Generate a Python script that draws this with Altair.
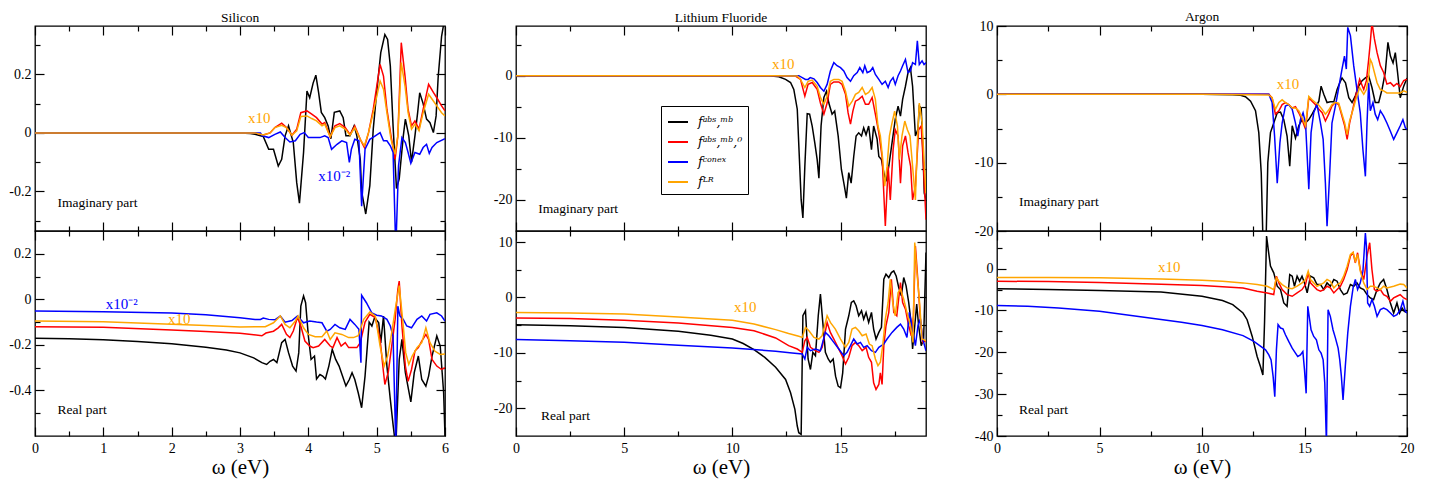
import altair as alt
import pandas as pd

FONT = "Liberation Serif"
SERIES = ["fᵃᵇˢ,ᵐᵇ", "fᵃᵇˢ,ᵐᵇ,⁰", "fᶜᵒⁿᵉˣ", "fᴸᴿ"]
COLORS = ["#000000", "#ff0000", "#0000ff", "#ffa500"]

# ---------------- Silicon, imaginary part ----------------
SI_IM_K = [(0,0),(1,0),(2,0),(3,0),(3.15,-0.002),(3.22,-0.005),(3.34,-0.012),(3.42,-0.056),(3.49,-0.056),(3.56,-0.113),(3.61,-0.09),(3.66,-0.01),(3.71,0.024),(3.78,-0.033),(3.83,-0.17),(3.87,-0.24),(3.93,-0.067),(3.98,0.143),(4.02,0.12),(4.07,0.17),(4.11,0.197),(4.15,0.138),(4.19,0.07),(4.24,0.052),(4.29,0.024),(4.33,-0.02),(4.38,0.07),(4.46,0.075),(4.51,0.052),(4.55,-0.01),(4.61,-0.01),(4.67,0.024),(4.71,-0.01),(4.76,-0.09),(4.78,-0.2),(4.84,-0.277),(4.90,-0.18),(4.95,0.013),(5.0,0.138),(5.06,0.274),(5.12,0.336),(5.16,0.319),(5.2,0.228),(5.24,0.024),(5.29,-0.19),(5.33,-0.157),(5.39,-0.01),(5.42,0.047),(5.47,-0.01),(5.51,-0.1),(5.56,-0.01),(5.6,0.07),(5.63,0.137),(5.68,0.1),(5.73,0.047),(5.78,0.035),(5.83,0.001),(5.87,0.058),(5.9,0.19),(5.95,0.33),(5.98,0.37),(6.0,0.42)]
SI_IM_R = [(0,0),(1,0),(2,0),(3,0),(3.22,0),(3.34,-0.007),(3.44,0),(3.51,0.018),(3.61,0.033),(3.68,0.018),(3.76,-0.008),(3.83,0.013),(3.89,0.069),(3.98,0.075),(4.05,0.064),(4.12,0.052),(4.2,0.03),(4.24,0.035),(4.32,-0.013),(4.39,0.024),(4.46,0.032),(4.54,0.018),(4.61,-0.005),(4.68,0.024),(4.76,-0.022),(4.82,-0.05),(4.88,0),(4.95,0.08),(5.05,0.234),(5.1,0.194),(5.15,0.08),(5.21,-0.01),(5.27,-0.09),(5.31,-0.01),(5.36,0.308),(5.415,0.194),(5.46,0.08),(5.51,0.024),(5.56,0.041),(5.62,0.013),(5.68,0.08),(5.76,0.166),(5.83,0.138),(5.88,0.12),(5.95,0.092),(6.0,0.075)]
SI_IM_B = [(0,0),(1,0),(2,0),(3,0),(3.3,0),(3.32,-0.009),(3.42,-0.016),(3.51,-0.005),(3.59,0.003),(3.66,-0.016),(3.73,-0.031),(3.81,-0.027),(3.88,-0.005),(3.94,0.001),(4.0,-0.016),(4.07,-0.016),(4.17,-0.016),(4.24,-0.01),(4.29,-0.016),(4.34,-0.056),(4.42,-0.039),(4.49,-0.027),(4.56,-0.033),(4.6,-0.101),(4.63,-0.056),(4.68,-0.022),(4.74,-0.027),(4.78,-0.25),(4.83,-0.056),(4.9,-0.022),(4.98,-0.01),(5.05,0.001),(5.1,-0.027),(5.15,-0.027),(5.2,-0.044),(5.24,-0.067),(5.28,-0.4),(5.32,-0.112),(5.37,-0.016),(5.42,-0.033),(5.46,-0.067),(5.5,-0.104),(5.56,-0.067),(5.63,-0.073),(5.68,-0.05),(5.73,-0.039),(5.77,-0.07),(5.81,-0.05),(5.88,-0.033),(6.0,-0.02)]
SI_IM_O = [(0,0),(1,0),(2,0),(3,0),(3.22,0),(3.34,-0.007),(3.44,0),(3.51,0.018),(3.61,0.026),(3.68,0.018),(3.76,-0.008),(3.83,0.007),(3.89,0.056),(3.98,0.058),(4.05,0.049),(4.12,0.041),(4.2,0.024),(4.24,0.03),(4.32,-0.013),(4.39,0.018),(4.46,0.024),(4.54,0.013),(4.61,-0.008),(4.68,0.018),(4.76,-0.022),(4.82,-0.044),(4.88,0),(4.95,0.069),(5.05,0.177),(5.1,0.149),(5.15,0.069),(5.21,-0.022),(5.27,-0.073),(5.31,-0.01),(5.36,0.24),(5.415,0.16),(5.46,0.069),(5.51,0.013),(5.56,0.03),(5.62,0.007),(5.68,0.069),(5.76,0.132),(5.83,0.109),(5.88,0.092),(5.95,0.069),(6.0,0.058)]

# ---------------- Silicon, real part ----------------
SI_RE_K = [(0,-0.171),(0.5,-0.173),(1,-0.177),(1.5,-0.185),(2,-0.195),(2.5,-0.21),(2.8,-0.222),(3.0,-0.235),(3.2,-0.257),(3.32,-0.278),(3.39,-0.286),(3.44,-0.272),(3.49,-0.264),(3.54,-0.278),(3.61,-0.19),(3.66,-0.176),(3.71,-0.234),(3.77,-0.293),(3.82,-0.315),(3.86,-0.234),(3.89,-0.03),(3.93,0.015),(3.96,-0.015),(4.0,-0.16),(4.04,-0.264),(4.09,-0.249),(4.12,-0.35),(4.17,-0.33),(4.21,-0.337),(4.25,-0.35),(4.30,-0.293),(4.35,-0.22),(4.40,-0.264),(4.45,-0.293),(4.5,-0.337),(4.55,-0.38),(4.6,-0.352),(4.64,-0.322),(4.68,-0.352),(4.73,-0.41),(4.78,-0.476),(4.83,-0.337),(4.89,-0.1),(4.93,-0.117),(4.97,-0.08),(5.03,-0.103),(5.06,-0.191),(5.1,-0.073),(5.15,-0.293),(5.2,-0.44),(5.24,-0.55),(5.28,-0.65),(5.33,-0.264),(5.37,-0.176),(5.42,-0.322),(5.5,-0.45),(5.55,-0.322),(5.61,-0.249),(5.66,-0.352),(5.72,-0.381),(5.76,-0.337),(5.81,-0.249),(5.88,-0.161),(5.93,-0.205),(5.98,-0.41),(6.0,-0.6)]
SI_RE_R = [(0,-0.12),(1,-0.123),(2,-0.135),(2.5,-0.141),(3,-0.149),(3.2,-0.155),(3.32,-0.16),(3.38,-0.148),(3.49,-0.14),(3.56,-0.125),(3.61,-0.11),(3.68,-0.154),(3.73,-0.168),(3.78,-0.139),(3.84,-0.08),(3.89,-0.117),(3.95,-0.183),(4.02,-0.205),(4.07,-0.212),(4.15,-0.205),(4.24,-0.176),(4.32,-0.205),(4.36,-0.212),(4.42,-0.168),(4.48,-0.205),(4.54,-0.19),(4.59,-0.212),(4.66,-0.212),(4.71,-0.212),(4.76,-0.19),(4.83,-0.1),(4.9,-0.066),(4.98,-0.08),(5.05,-0.176),(5.1,-0.32),(5.12,-0.374),(5.17,-0.32),(5.22,-0.205),(5.27,-0.088),(5.31,0.044),(5.33,0.08),(5.37,-0.117),(5.42,-0.293),(5.46,-0.36),(5.51,-0.308),(5.56,-0.227),(5.61,-0.212),(5.66,-0.183),(5.72,-0.154),(5.76,-0.176),(5.81,-0.264),(5.88,-0.293),(5.95,-0.308),(6.0,-0.3)]
SI_RE_B = [(0,-0.051),(1,-0.054),(2,-0.06),(2.5,-0.068),(3,-0.081),(3.22,-0.088),(3.3,-0.088),(3.34,-0.082),(3.42,-0.088),(3.51,-0.09),(3.59,-0.073),(3.66,-0.1),(3.76,-0.093),(3.84,-0.073),(3.93,-0.103),(4.02,-0.095),(4.12,-0.1),(4.2,-0.103),(4.27,-0.14),(4.32,-0.132),(4.39,-0.11),(4.46,-0.125),(4.54,-0.132),(4.61,-0.088),(4.68,-0.11),(4.74,-0.132),(4.77,-0.278),(4.78,0.018),(4.85,-0.015),(4.93,-0.06),(5.0,-0.07),(5.07,-0.073),(5.15,-0.088),(5.2,-0.117),(5.24,-0.161),(5.28,-0.65),(5.31,-0.03),(5.34,-0.073),(5.39,-0.088),(5.44,-0.117),(5.51,-0.125),(5.59,-0.088),(5.66,-0.073),(5.73,-0.095),(5.78,-0.066),(5.88,-0.059),(5.95,-0.073),(6.0,-0.095)]
SI_RE_O = [(0,-0.095),(1,-0.098),(2,-0.109),(2.5,-0.115),(3,-0.122),(3.22,-0.12),(3.37,-0.12),(3.49,-0.103),(3.59,-0.073),(3.66,-0.11),(3.73,-0.125),(3.81,-0.095),(3.85,-0.073),(3.93,-0.125),(4.0,-0.154),(4.1,-0.164),(4.2,-0.164),(4.27,-0.139),(4.32,-0.176),(4.39,-0.147),(4.49,-0.154),(4.59,-0.168),(4.66,-0.168),(4.73,-0.16),(4.81,-0.088),(4.9,-0.056),(4.98,-0.073),(5.05,-0.205),(5.11,-0.293),(5.16,-0.249),(5.22,-0.147),(5.28,-0.029),(5.33,0.06),(5.38,-0.088),(5.425,-0.234),(5.47,-0.286),(5.52,-0.249),(5.59,-0.212),(5.66,-0.19),(5.72,-0.125),(5.78,-0.19),(5.85,-0.227),(5.93,-0.242),(6.0,-0.24)]

# ---------------- Lithium Fluoride, imaginary part ----------------
LIF_IM_K = [(0,0),(5,0),(10,0),(11,0),(11.7,0),(12.15,-0.16),(12.46,-0.6),(12.69,-1.1),(12.84,-2.2),(13.0,-5.4),(13.1,-13.5),(13.18,-20),(13.26,-22.9),(13.35,-14.6),(13.46,-6.1),(13.57,-6.2),(13.69,-8.1),(13.81,-10.8),(13.92,-13.5),(14.0,-16.5),(14.1,-8.1),(14.23,-3.5),(14.35,-2.5),(14.46,-4.4),(14.61,-6.2),(14.73,-5.7),(14.89,-9.7),(15.04,-15.1),(15.18,-17.8),(15.27,-19.7),(15.38,-15.6),(15.49,-17.3),(15.61,-13),(15.72,-9.7),(15.84,-9.2),(15.97,-9.7),(16.07,-8.4),(16.18,-9.5),(16.3,-8.1),(16.43,-11.9),(16.53,-8.1),(16.69,-10.2),(16.77,-13),(16.89,-13.5),(17.0,-15.6),(17.1,-17),(17.23,-14.6),(17.38,-10.8),(17.53,-7),(17.66,-4.9),(17.77,-6.5),(17.87,-3.8),(18.0,-1.7),(18.12,0.5),(18.23,1.3),(18.33,-1.7),(18.46,-9.7),(18.58,-8.6),(18.64,-4.9),(18.73,-5.2),(18.81,-12.4),(18.87,-18.9),(18.95,-20)]
LIF_IM_R = [(0,0),(5,0),(10,0),(12,0),(12.92,-0.05),(13.15,-0.6),(13.35,-3.3),(13.5,-1.4),(13.69,-1.1),(13.92,-2.2),(14.07,-4.4),(14.23,-6.2),(14.38,-4.4),(14.53,-1.4),(14.69,-1.0),(14.92,-1.0),(15.07,-1.4),(15.23,-3),(15.35,-6),(15.46,-7.8),(15.57,-5.7),(15.69,-4.1),(15.84,-3.8),(16.0,-3.3),(16.15,-4.6),(16.3,-4.6),(16.46,-3.5),(16.61,-6.2),(16.77,-9.2),(16.92,-13),(17.07,-24.2),(17.2,-14.6),(17.3,-20),(17.43,-11.9),(17.53,-8.7),(17.66,-9.7),(17.77,-17.3),(17.87,-11.3),(18.0,-9.7),(18.12,-12.4),(18.24,-14.6),(18.33,-20),(18.46,-17.8),(18.61,-8.7),(18.73,-8.1),(18.84,-15.1),(18.95,-23.2)]
LIF_IM_B = [(0,0),(5,0),(10,0),(12,0),(13.07,0),(13.23,-0.3),(13.38,-0.6),(13.5,-0.6),(13.6,-0.3),(13.77,-0.5),(13.92,-1.1),(14.07,-1.9),(14.23,-2.5),(14.38,-1.4),(14.53,0.75),(14.69,2.1),(14.84,1.6),(15.0,1.3),(15.15,0.75),(15.3,-0.3),(15.46,-0.9),(15.61,0),(15.77,0.5),(15.89,1.3),(16.03,0.5),(16.12,1.6),(16.23,0.5),(16.38,0.75),(16.49,1.3),(16.61,0.2),(16.77,-0.6),(16.92,-1.4),(17.07,-0.9),(17.2,-1.9),(17.3,-0.9),(17.43,-0.3),(17.53,-1.4),(17.66,0),(17.77,0.75),(17.87,1.6),(18.0,2.6),(18.12,0.5),(18.23,0.75),(18.33,2.1),(18.46,1.8),(18.55,5.6),(18.64,1.8),(18.77,2.4),(18.86,1.8),(18.95,2.1)]
LIF_IM_O = [(0,0),(5,0),(10,0),(12,0),(13.0,-0.05),(13.15,-0.6),(13.35,-1.9),(13.5,-0.9),(13.69,-0.7),(13.92,-1.7),(14.07,-3.5),(14.23,-4.6),(14.38,-3.3),(14.53,-0.9),(14.69,-0.6),(14.92,-0.6),(15.07,-0.9),(15.23,-2.5),(15.38,-4.9),(15.54,-4.1),(15.69,-3),(15.84,-2.7),(16.0,-1.9),(16.15,-3),(16.3,-2.7),(16.46,-1.9),(16.61,-3.8),(16.73,-8.1),(16.84,-9.7),(16.95,-13.5),(17.04,-17.8),(17.15,-14.6),(17.26,-9.7),(17.38,-7.6),(17.5,-5.7),(17.63,-8.1),(17.72,-13.5),(17.84,-9.7),(17.97,-7.3),(18.09,-8.7),(18.21,-9.7),(18.33,-14.6),(18.46,-20),(18.55,-10.8),(18.64,-4.4),(18.77,-7.6),(18.86,-13.5),(18.95,-18.9)]

# ---------------- Lithium Fluoride, real part ----------------
LIF_RE_K = [(0,-4.9),(2.5,-5.1),(5,-5.4),(7.5,-6.1),(9,-6.8),(10,-7.5),(10.5,-8.3),(11,-9.4),(11.5,-10.8),(12,-12.6),(12.46,-14.8),(12.69,-17.2),(12.89,-20.2),(13.0,-23.2),(13.07,-24.4),(13.18,-24.7),(13.26,-3.3),(13.38,-2.4),(13.5,-11.1),(13.61,-13),(13.72,-9.9),(13.84,-10.5),(13.97,-3.3),(14.07,0.6),(14.18,-4.5),(14.3,-9.9),(14.43,-11.1),(14.53,-11.7),(14.66,-11.1),(14.77,-14.2),(14.89,-16),(15.0,-16.3),(15.1,-13.6),(15.23,-5.7),(15.38,-3.3),(15.5,-0.9),(15.61,-0.6),(15.72,-1.5),(15.84,-3.3),(15.97,-2.4),(16.07,-3.9),(16.18,-2.7),(16.3,-4.5),(16.43,-2.7),(16.53,-5.7),(16.64,-7.5),(16.77,-6.3),(16.89,-5.4),(17.0,3.3),(17.1,4.2),(17.23,3.6),(17.35,4.5),(17.46,4.8),(17.57,3.9),(17.69,1.8),(17.81,0.3),(17.92,3.6),(18.03,2.1),(18.15,-0.9),(18.26,-4.5),(18.33,-9.3),(18.43,-5.1),(18.52,-1.2),(18.61,-5.1),(18.73,-8.7),(18.84,-7.5),(18.95,8.1)]
LIF_RE_R = [(0,-3.7),(2.5,-3.8),(5,-4.1),(7.5,-4.6),(10,-5.4),(11,-6.0),(12,-7.3),(12.6,-8.7),(13.0,-9.3),(13.23,-9.9),(13.35,-7.8),(13.46,-7.2),(13.61,-9),(13.84,-9.6),(14.0,-9.9),(14.15,-9),(14.38,-4.5),(14.53,-6.3),(14.69,-7.5),(14.84,-8.7),(15.07,-10.5),(15.23,-12),(15.38,-10.8),(15.53,-8.7),(15.69,-8.1),(15.84,-8.7),(16.0,-9.6),(16.18,-9),(16.3,-10.8),(16.43,-11.7),(16.53,-15.4),(16.64,-16.6),(16.77,-15.7),(16.84,-13.6),(16.92,-15.7),(17.0,-8.7),(17.1,-5.1),(17.23,-2.7),(17.35,3.3),(17.46,-2.7),(17.6,-3.3),(17.77,2.7),(17.87,-0.9),(18.0,-2.1),(18.15,-5.1),(18.27,-6.9),(18.37,-3.3),(18.46,9.3),(18.57,3.3),(18.69,-3.9),(18.8,-8.1),(18.95,-7.8)]
LIF_RE_B = [(0,-7.6),(2.5,-7.8),(5,-8.1),(7.5,-8.6),(10,-9.1),(12,-9.7),(12.76,-10),(13.23,-10.2),(13.35,-11.1),(13.46,-9),(13.61,-9.6),(13.84,-9.3),(14.07,-9.6),(14.3,-6.3),(14.46,-6.9),(14.69,-8.1),(14.92,-9.3),(15.15,-10.5),(15.3,-9.9),(15.46,-8.7),(15.61,-7.5),(15.77,-8.4),(15.92,-8.1),(16.07,-9),(16.23,-8.7),(16.43,-9.6),(16.61,-9.9),(16.77,-9),(17.0,-8.4),(17.15,-7.5),(17.38,-6.3),(17.6,-5.4),(17.77,-4.8),(17.92,-5.7),(18.07,-7.2),(18.18,-2.7),(18.3,-5.1),(18.46,-8.7),(18.58,-5.1),(18.69,-3.9),(18.8,-7.5),(18.95,-9.6)]
LIF_RE_O = [(0,-2.7),(2.5,-2.8),(5,-3.0),(7.5,-3.5),(10,-4.1),(11,-4.8),(12,-5.8),(12.6,-6.5),(13.07,-7.0),(13.23,-7.2),(13.38,-5.4),(13.54,-6),(13.77,-7.2),(14.0,-7.5),(14.15,-6.9),(14.38,-3.3),(14.53,-4.5),(14.76,-5.7),(15.0,-7.5),(15.23,-9),(15.38,-8.1),(15.53,-5.7),(15.69,-5.4),(15.84,-6),(16.0,-6.9),(16.18,-6.6),(16.33,-8.4),(16.46,-8.7),(16.61,-11.1),(16.73,-12.3),(16.84,-11.7),(16.95,-8.7),(17.07,-3.9),(17.2,-0.9),(17.3,3.3),(17.41,-0.9),(17.53,-3.3),(17.66,0.9),(17.77,1.5),(17.92,-0.3),(18.07,-2.7),(18.23,-5.1),(18.35,-8.1),(18.43,9.9),(18.53,4.5),(18.64,-0.3),(18.77,-7.5),(18.95,-7.8)]

# ---------------- Argon, imaginary part ----------------
AR_IM_K = [(0,0),(5,0),(10,0),(11.5,-0.05),(11.88,-0.15),(12.12,-0.35),(12.37,-1),(12.61,-2.4),(12.77,-5.6),(12.89,-11.5),(12.98,-22),(13.1,-25),(13.21,-10),(13.34,-5.6),(13.5,-4.2),(13.67,-2.7),(13.83,-2.6),(13.99,-3.7),(14.15,-6.1),(14.28,-10.5),(14.4,-4.6),(14.56,-6.4),(14.72,-4.6),(14.88,-3.7),(15.05,-4.2),(15.21,-3.7),(15.37,-2.9),(15.53,-2),(15.7,-1),(15.81,1.2),(15.94,0),(16.1,-1.2),(16.26,-1.1),(16.43,-1.1),(16.59,0.7),(16.72,1.7),(16.83,2.4),(17.0,1.7),(17.16,-0.5),(17.32,-1.2),(17.48,-0.2),(17.64,1.2),(17.81,2),(17.97,2.4),(18.13,2.7),(18.29,1),(18.45,-1.2),(18.62,-1.2),(18.78,0.7),(18.94,3.2),(19.07,7.6),(19.19,5.6),(19.32,4.6),(19.43,6.1),(19.54,3.2),(19.67,-0.5),(19.84,1.2),(20.0,2.4)]
AR_IM_R = [(0,0),(5,0),(10,0),(13.26,0),(13.42,-0.5),(13.58,-2.9),(13.75,-2.4),(13.91,-1.5),(14.07,-1.2),(14.23,-1.5),(14.4,-2),(14.56,-1.8),(14.72,-2.7),(14.88,-3.7),(15.05,-5.1),(15.21,-0.5),(15.37,-1),(15.53,-1.5),(15.7,-2.2),(15.86,-2.7),(16.02,-3.9),(16.18,-2.9),(16.34,-1.7),(16.51,-1.2),(16.67,-1.5),(16.83,-3.2),(16.96,-4.6),(17.08,-6.6),(17.2,-4.2),(17.37,-2),(17.53,0.2),(17.69,2.2),(17.89,0.7),(18.02,2),(18.13,5.1),(18.21,7.6),(18.29,10.5),(18.41,8.1),(18.54,6.1),(18.7,4.2),(18.86,3.2),(19.02,1.5),(19.19,1.7),(19.35,1.2),(19.51,1.6),(19.67,1.1),(19.84,2),(20.0,2.2)]
AR_IM_B = [(0,0),(5,0),(10,0),(13.26,0),(13.42,-1.2),(13.54,-6.1),(13.67,-13),(13.8,-7.1),(13.91,-4.2),(14.07,-1.7),(14.23,-1.5),(14.4,-2.2),(14.56,-4.2),(14.67,-6.1),(14.8,-3.7),(14.93,-2.7),(15.05,-4.2),(15.13,-9),(15.21,-13.9),(15.32,-5.6),(15.45,-2.7),(15.61,-1.5),(15.78,-4.2),(15.91,-6.6),(16.02,-13),(16.1,-19.3),(16.23,-11.5),(16.34,-4.2),(16.51,-1.7),(16.67,1),(16.83,3.7),(16.95,5.6),(17.04,3.7),(17.11,9.8),(17.24,8.6),(17.4,4.2),(17.56,0.7),(17.72,-2.7),(17.85,-8.1),(17.97,-12),(18.05,-4.2),(18.13,1.7),(18.21,-2.4),(18.34,-1.2),(18.45,-2.9),(18.57,-3.7),(18.7,-2.4),(18.86,-3.2),(19.02,-4.2),(19.19,-5.4),(19.35,-6.6),(19.51,-5.6),(19.67,-4.6),(19.8,-3.7),(19.92,-4.9),(20.0,-5.1)]
AR_IM_O = [(0,0),(5,0),(10,0),(13.26,-0.1),(13.42,-0.5),(13.58,-2.2),(13.75,-1.2),(13.91,-0.8),(14.07,-1.2),(14.23,-1.5),(14.4,-2),(14.56,-2),(14.72,-2.4),(14.88,-3.4),(15.05,-4.6),(15.21,-0.3),(15.37,-0.8),(15.53,-1.2),(15.7,-1.6),(15.86,-2.2),(16.02,-2.9),(16.18,-2.3),(16.34,-1.5),(16.51,-1.2),(16.67,-1.3),(16.83,-2.9),(16.96,-4.2),(17.08,-5.9),(17.2,-3.9),(17.37,-2.2),(17.53,-0.5),(17.69,1),(17.89,0),(18.02,0.7),(18.13,2.7),(18.21,5.1),(18.29,4.6),(18.41,3.2),(18.54,1.7),(18.7,0.7),(18.86,0.5),(19.02,0.2),(19.35,0.2),(19.67,0.2),(19.84,0.5),(20.0,0.3)]

# ---------------- Argon, real part ----------------
AR_RE_K = [(0,-4.8),(2.5,-5.0),(5,-5.2),(8,-5.6),(10,-6.6),(11,-7.6),(11.5,-8.6),(12,-10.6),(12.2,-12.2),(12.45,-16.2),(12.69,-21),(12.85,-23.4),(12.97,-25.4),(13.05,-13),(13.15,7.8),(13.23,4.6),(13.34,0.6),(13.5,-1),(13.67,-4.2),(13.83,-5),(13.99,-8.2),(14.15,-9),(14.28,-1.4),(14.4,-1.8),(14.51,-4.2),(14.64,-1.8),(14.76,-3),(14.88,-1.8),(15.0,-3.4),(15.13,-5.8),(15.29,-1.8),(15.45,-2.2),(15.61,-3.8),(15.78,-3.8),(15.94,-5),(16.1,-3.4),(16.26,-4.2),(16.43,-2.6),(16.59,-3),(16.75,-5),(16.91,-6.2),(17.08,-5.8),(17.24,-3.8),(17.4,-4.2),(17.56,-3.4),(17.72,-4.6),(17.89,-5),(18.05,-6.2),(18.21,-7),(18.37,-7.4),(18.54,-5),(18.7,-3.4),(18.86,-2.6),(19.02,-5),(19.19,-8.2),(19.35,-10.6),(19.51,-8.2),(19.64,-10.6),(19.76,-9.4),(19.87,-10.2),(20.0,-10.5)]
AR_RE_R = [(0,-3.0),(2.5,-3.1),(5,-3.3),(8,-3.7),(10,-4.0),(11,-4.3),(12,-4.6),(12.69,-5.4),(13.18,-5.8),(13.5,-6.2),(13.63,-1.8),(13.75,-3.4),(13.91,-5),(14.15,-6.2),(14.4,-6.6),(14.64,-5.8),(14.88,-5),(15.05,-3.8),(15.18,-1),(15.29,-3.4),(15.45,-4.2),(15.61,-5),(15.78,-5.4),(15.94,-5),(16.1,-4.2),(16.26,-4.6),(16.43,-5.8),(16.59,-5),(16.75,-4.2),(16.91,-2.6),(17.08,-0.2),(17.24,3),(17.37,3.8),(17.48,1.4),(17.59,3.8),(17.72,-0.2),(17.89,-2.6),(18.05,3),(18.18,6.2),(18.29,-0.2),(18.41,-5),(18.54,-5.4),(18.7,-5),(18.86,-6.2),(19.02,-6.6),(19.19,-7.8),(19.35,-7),(19.51,-6.6),(19.67,-6.2),(19.84,-7),(20.0,-7.4)]
AR_RE_B = [(0,-8.8),(1.5,-9.0),(3,-9.4),(5,-10.2),(7,-11.5),(9,-12.8),(10,-13.6),(11,-14.6),(12,-16.0),(12.53,-17.4),(12.85,-18.5),(13.1,-19.4),(13.26,-20.6),(13.37,-21.8),(13.47,-25.8),(13.55,-30.6),(13.63,-19.4),(13.71,-13.4),(13.83,-14.2),(13.95,-14.4),(14.07,-15.8),(14.23,-17.4),(14.4,-19),(14.56,-20.2),(14.67,-21),(14.8,-20.6),(14.92,-19.8),(15.0,-24.2),(15.08,-29.8),(15.16,-9),(15.24,-11.8),(15.32,-14.6),(15.45,-16.2),(15.58,-17),(15.7,-19.4),(15.81,-20.2),(15.91,-21.8),(15.99,-27.4),(16.07,-42),(16.15,-9.8),(16.26,-11.4),(16.39,-14.6),(16.51,-16.6),(16.64,-19),(16.72,-21.8),(16.8,-25.8),(16.88,-31.4),(16.99,-23.4),(17.11,-15.4),(17.24,-9),(17.37,-4.6),(17.48,-2.6),(17.59,-5),(17.72,-3.4),(17.85,-0.6),(17.97,8.5),(18.02,5.4),(18.08,-8.2),(18.18,-9),(18.29,-7.4),(18.41,-9),(18.54,-11.4),(18.7,-9.8),(18.86,-9.4),(19.02,-9.8),(19.19,-10.6),(19.35,-11.4),(19.51,-11),(19.67,-9.8),(19.8,-7.8),(19.92,-10.2),(20.0,-10.6)]
AR_RE_O = [(0,-2.1),(2.5,-2.1),(5,-2.2),(8,-2.5),(10,-2.8),(11,-3.0),(12,-3.4),(12.69,-3.8),(13.18,-4.2),(13.5,-5),(13.63,-2.2),(13.75,-3),(13.91,-3.8),(14.15,-4.6),(14.4,-4.8),(14.64,-4.2),(14.88,-3.4),(15.05,-2.6),(15.18,-0.6),(15.29,-2.6),(15.45,-3.4),(15.61,-4.2),(15.78,-3.8),(15.94,-3.4),(16.1,-2.6),(16.26,-3),(16.43,-4.6),(16.59,-3.8),(16.75,-3.4),(16.91,-1.8),(17.08,0.6),(17.24,3.4),(17.37,3.9),(17.48,1.8),(17.59,3.4),(17.72,-0.6),(17.89,-3.4),(18.05,-5),(18.21,-4.2),(18.37,-4.2),(18.54,-4.6),(18.7,-5),(18.86,-4.2),(19.02,-4.6),(19.35,-4.2),(19.67,-3.7),(19.84,-3.8),(20.0,-4.6)]

# axis domains and tick values
SI_X = [0, 6]; SI_XMAJ = [0, 1, 2, 3, 4, 5, 6]; SI_XMIN = [0.5, 1.5, 2.5, 3.5, 4.5, 5.5]
SI_IM_Y = [-0.335, 0.365]; SI_IM_YMAJ = [-0.2, 0, 0.2]; SI_IM_YMIN = [-0.3, -0.1, 0.1, 0.3]
SI_RE_Y = [-0.6, 0.3]; SI_RE_YMAJ = [-0.4, -0.2, 0, 0.2]; SI_RE_YMIN = [-0.5, -0.3, -0.1, 0.1]
LIF_X = [0, 18.95]; LIF_XMAJ = [0, 5, 10, 15]; LIF_XMIN = [2.5, 7.5, 12.5, 17.5]
LIF_IM_Y = [-25, 8]; LIF_IM_YMAJ = [-20, -10, 0]; LIF_IM_YMIN = [-15, -5, 5]
LIF_RE_Y = [-25, 12]; LIF_RE_YMAJ = [-20, -10, 0, 10]; LIF_RE_YMIN = [-15, -5, 5]
AR_X = [0, 20]; AR_XMAJ = [0, 5, 10, 15, 20]; AR_XMIN = [2.5, 7.5, 12.5, 17.5]
AR_IM_Y = [-20, 10]; AR_IM_YMAJ = [-20, -10, 0, 10]; AR_IM_YMIN = [-15, -5, 5]
AR_RE_Y = [-40, 9]; AR_RE_YMAJ = [-40, -30, -20, -10, 0]; AR_RE_YMIN = [-35, -25, -15, -5, 5]

ORANGE, BLUE, BLACK = "#ffa500", "#0000ff", "#000000"
SI_IM_NOTES = [("x10", 3.28, 0.05, ORANGE, 15, "center"), ("x10⁻²", 4.38, -0.147, BLUE, 15, "center"), ("Imaginary part", 0.33, -0.238, BLACK, 13.5, "left")]
SI_RE_NOTES = [("x10⁻²", 1.27, -0.022, BLUE, 15, "center"), ("x10", 2.11, -0.088, ORANGE, 15, "center"), ("Real part", 0.33, -0.487, BLACK, 13.5, "left")]
LIF_IM_NOTES = [("x10", 12.35, 1.9, ORANGE, 15, "center"), ("Imaginary part", 1.03, -21.45, BLACK, 13.5, "left")]
LIF_RE_NOTES = [("x10", 10.6, -1.7, ORANGE, 15, "center"), ("Real part", 1.15, -21.4, BLACK, 13.5, "left")]
AR_IM_NOTES = [("x10", 14.2, 1.5, ORANGE, 15, "center"), ("Imaginary part", 1.07, -15.8, BLACK, 13.5, "left")]
AR_RE_NOTES = [("x10", 8.4, 0.3, ORANGE, 15, "center"), ("Real part", 1.07, -33.8, BLACK, 13.5, "left")]

W, H = 410, 205
MAJ, MINR = 9, 5


def make_df(series_lists):
    rows = []
    for name, pts in zip(SERIES, series_lists):
        for i, (x, y) in enumerate(pts):
            rows.append({"x": x, "y": y, "s": name, "i": i})
    return pd.DataFrame(rows)


def panel(series_lists, xdom, ydom, xmaj, xmin_, ymaj, ymin_, bottom, notes, title=None, title_offset=1,
          legend=False):
    df = make_df(series_lists)
    xs = alt.Scale(domain=xdom, nice=False, zero=False)
    ys = alt.Scale(domain=ydom, nice=False, zero=False)
    base = alt.Chart(df)
    common = dict(grid=False, labelFont=FONT, labelFontSize=14, labelColor="black", labelFlush=False,
                  labelOverlap=False)
    if bottom:
        xax = alt.Axis(orient="bottom", values=xmaj, ticks=False, tickSize=0, domain=False,
                       labelPadding=5, labelExpr="toString(datum.value)", title="ω (eV)", titlePadding=1,
                       titleFont=FONT, titleFontSize=21, titleFontWeight="normal", titleColor="black",
                       **common)
    else:
        xax = alt.Axis(orient="bottom", values=xmaj, ticks=False, tickSize=0, domain=False,
                       labels=False, title=None, grid=False)
    yax = alt.Axis(orient="left", values=ymaj, ticks=False, tickSize=0, domain=False,
                   labelPadding=4, labelExpr="toString(datum.value)", title=None, **common)
    if legend:
        leg = alt.Legend(orient="none", legendX=145, legendY=80, title=None, symbolType="stroke",
                         symbolSize=400, symbolStrokeWidth=2, labelFont="DejaVu Serif", labelFontSize=12.5,
                         labelFontStyle="italic", labelColor="black", strokeColor="black",
                         fillColor="white", padding=5, rowPadding=2, labelOffset=9, symbolOffset=1)
    else:
        leg = None
    lines = base.mark_line(clip=True, strokeWidth=1.5).encode(
        x=alt.X("x:Q", scale=xs, axis=xax),
        y=alt.Y("y:Q", scale=ys, axis=yax),
        color=alt.Color("s:N", scale=alt.Scale(domain=SERIES, range=COLORS), legend=leg),
        order=alt.Order("i:Q"),
    )
    layers = [lines]
    for xo, yo, xv, yv, sz in [("bottom", "left", xmaj, ymaj, MAJ), ("bottom", "left", xmin_, ymin_, MINR),
                               ("top", "right", xmaj, ymaj, MAJ), ("top", "right", xmin_, ymin_, MINR)]:
        layers.append(base.mark_point(opacity=0, clip=True).encode(
            x=alt.X("x:Q", scale=xs, axis=alt.Axis(orient=xo, values=xv, labels=False, domain=False,
                                                   tickSize=sz, offset=-sz, title=None, grid=False,
                                                   tickColor="black", tickWidth=1.2)),
            y=alt.Y("y:Q", scale=ys, axis=alt.Axis(orient=yo, values=yv, labels=False, domain=False,
                                                   tickSize=sz, offset=-sz, title=None, grid=False,
                                                   tickColor="black", tickWidth=1.2)),
        ))
    for t, x, y, col, size, align in notes:
        ndf = pd.DataFrame({"x": [x], "y": [y], "t": [t]})
        layers.append(alt.Chart(ndf).mark_text(color=col, fontSize=size, align=align, baseline="middle",
                                               font=FONT).encode(
            x=alt.X("x:Q", scale=xs, axis=None),
            y=alt.Y("y:Q", scale=ys, axis=None),
            text="t:N",
        ))
    ch = alt.layer(*layers).resolve_axis(x="independent", y="independent").properties(width=W, height=H)
    if title:
        ch = ch.properties(title=alt.TitleParams(title, font=FONT, fontSize=13.5, fontWeight="normal",
                                                 anchor="middle", offset=title_offset, color="black"))
    return ch


p1 = panel([SI_IM_K, SI_IM_R, SI_IM_B, SI_IM_O], SI_X, SI_IM_Y, SI_XMAJ, SI_XMIN, SI_IM_YMAJ, SI_IM_YMIN,
           False, SI_IM_NOTES, title="Silicon", title_offset=1)
p2 = panel([LIF_IM_K, LIF_IM_R, LIF_IM_B, LIF_IM_O], LIF_X, LIF_IM_Y, LIF_XMAJ, LIF_XMIN, LIF_IM_YMAJ,
           LIF_IM_YMIN, False, LIF_IM_NOTES, title="Lithium Fluoride", title_offset=1, legend=True)
p3 = panel([AR_IM_K, AR_IM_R, AR_IM_B, AR_IM_O], AR_X, AR_IM_Y, AR_XMAJ, AR_XMIN, AR_IM_YMAJ, AR_IM_YMIN,
           False, AR_IM_NOTES, title="Argon", title_offset=-4)
p4 = panel([SI_RE_K, SI_RE_R, SI_RE_B, SI_RE_O], SI_X, SI_RE_Y, SI_XMAJ, SI_XMIN, SI_RE_YMAJ, SI_RE_YMIN,
           True, SI_RE_NOTES)
p5 = panel([LIF_RE_K, LIF_RE_R, LIF_RE_B, LIF_RE_O], LIF_X, LIF_RE_Y, LIF_XMAJ, LIF_XMIN, LIF_RE_YMAJ,
           LIF_RE_YMIN, True, LIF_RE_NOTES)
p6 = panel([AR_RE_K, AR_RE_R, AR_RE_B, AR_RE_O], AR_X, AR_RE_Y, AR_XMAJ, AR_XMIN, AR_RE_YMAJ, AR_RE_YMIN,
           True, AR_RE_NOTES)

chart = alt.concat(p1, p2, p3, p4, p5, p6, columns=3,
                   spacing=alt.RowColnumber(row=0, column=71), bounds="flush").resolve_legend(
    color="independent"
).properties(
    padding={"left": 0, "top": 0, "right": 5, "bottom": 2}
).configure_view(
    stroke="black", strokeWidth=1.3
).configure_axis(
    labelFont=FONT, labelFontSize=14, labelColor="black", titleFont=FONT, titleFontSize=21,
    titleFontWeight="normal", titleColor="black", labelFlush=False, labelOverlap=False, grid=False
)

chart.save("out.html", embed_options={"renderer": "svg", "actions": False})
